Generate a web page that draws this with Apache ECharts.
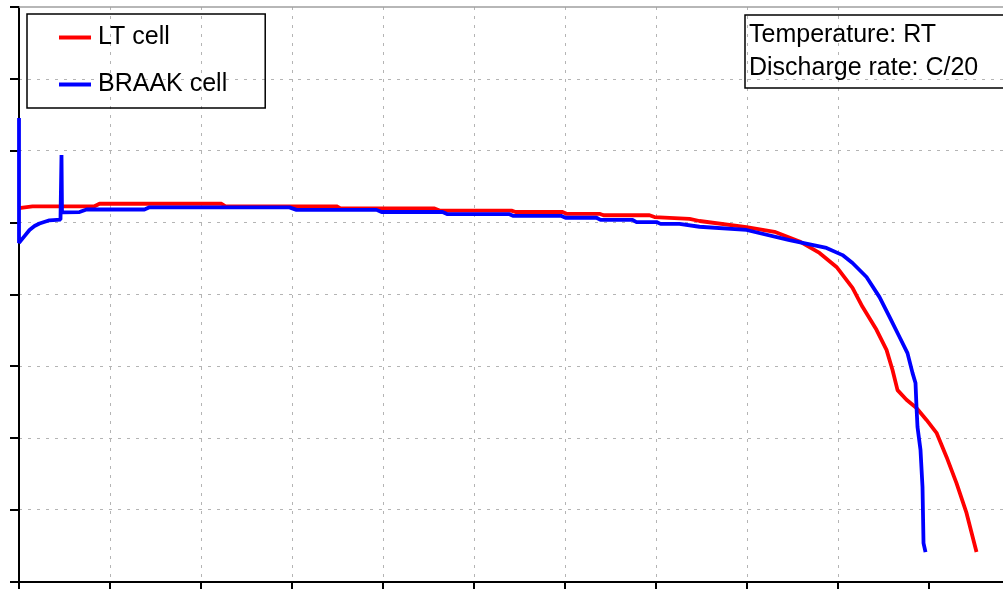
<!DOCTYPE html>
<html>
<head>
<meta charset="utf-8">
<script src="https://cdn.jsdelivr.net/npm/echarts@6/dist/echarts.min.js"></script>
<style>
  html, body { margin: 0; padding: 0; background: #fff; }
  #chart { width: 1003px; height: 589px; }
</style>
</head>
<body>
<div id="chart"></div>
<script>
// Discharge curves at room temperature, C/20 rate.
// x: discharge time (h), y: cell voltage (V)
const seriesNames = ['LT cell', 'BRAAK cell'];
const infoLines = ['Temperature: RT', 'Discharge rate: C/20'];

const ltCell = [
  [0, 3.040], [0.297, 3.045], [1.659, 3.045], [1.769, 3.052], [4.451, 3.052],
  [4.538, 3.045], [6.978, 3.045], [7.066, 3.039], [9.132, 3.039], [9.242, 3.033],
  [10.824, 3.033], [10.912, 3.029], [11.945, 3.029], [12.033, 3.024], [12.758, 3.024],
  [12.846, 3.020], [13.857, 3.020], [13.967, 3.015], [14.736, 3.010], [14.956, 3.004],
  [15.989, 2.987], [16.604, 2.974], [17.154, 2.947], [17.593, 2.915], [17.967, 2.876],
  [18.319, 2.818], [18.538, 2.765], [18.846, 2.701], [19.066, 2.645], [19.198, 2.589],
  [19.308, 2.533], [19.505, 2.506], [19.725, 2.483], [19.945, 2.450], [20.165, 2.414],
  [20.385, 2.347], [20.604, 2.274], [20.824, 2.191], [21.044, 2.082]
];

const braakCell = [
  [0, 3.291], [0, 2.943], [0.121, 2.962], [0.231, 2.979], [0.341, 2.990],
  [0.451, 2.997], [0.670, 3.006], [0.912, 3.008], [0.934, 3.008], [0.934, 3.188],
  [0.945, 3.028], [1.330, 3.029], [1.484, 3.036], [2.758, 3.036], [2.868, 3.042],
  [5.945, 3.042], [6.099, 3.035], [7.857, 3.035], [7.967, 3.029], [9.308, 3.029],
  [9.418, 3.023], [10.780, 3.023], [10.868, 3.018], [11.923, 3.018], [12.011, 3.013],
  [12.692, 3.013], [12.780, 3.007], [13.484, 3.007], [13.571, 3.001], [14.011, 3.001],
  [14.099, 2.996], [14.516, 2.996], [14.956, 2.988], [15.989, 2.979], [16.934, 2.951],
  [17.747, 2.929], [18.099, 2.909], [18.319, 2.887], [18.626, 2.848], [18.912, 2.792],
  [19.132, 2.737], [19.352, 2.681], [19.527, 2.636], [19.637, 2.581], [19.703, 2.553],
  [19.725, 2.486], [19.747, 2.430], [19.813, 2.366], [19.857, 2.263], [19.879, 2.107],
  [19.923, 2.082]
];

// time axis is cut at the right edge of the view
const xMin = 0, xMax = 21.626, xStep = 2;
const yMin = 2.0, yMax = 3.6, yStep = 0.2;
const xTicks = [0, 2, 4, 6, 8, 10, 12, 14, 16, 18, 20];

const font = 'Liberation Sans, Arial, sans-serif';
const gridLine = { show: true, showMaxLine: false, lineStyle: { color: '#b4b4b4', width: 1, type: [3, 6] } };

const chart = echarts.init(document.getElementById('chart'), null, { renderer: 'canvas' });
chart.setOption({
  backgroundColor: '#fff',
  animation: false,
  grid: { left: 19, right: 0, top: 7, bottom: 7.5, containLabel: false },
  title: {
    text: infoLines.join('\n'),
    left: 745, top: 15,
    borderColor: '#000', borderWidth: 1.5,
    padding: [4, 40, 3, 4],
    textStyle: { fontFamily: font, fontSize: 25, fontWeight: 'normal', color: '#000', lineHeight: 33 }
  },
  legend: {
    data: seriesNames,
    orient: 'vertical',
    left: 27, top: 14,
    borderColor: '#000', borderWidth: 1.5,
    padding: [11, 38, 11, 32],
    itemGap: 22,
    itemWidth: 32, itemHeight: 4,
    icon: 'rect',
    textStyle: { fontFamily: font, fontSize: 25, color: '#000', padding: [0, 0, 0, 2] }
  },
  xAxis: [{
    type: 'value', min: xMin, max: xMax, interval: xStep,
    axisLine: { show: true, onZero: false, lineStyle: { color: '#000', width: 2 } },
    axisTick: { show: true, inside: false, length: 8, customValues: xTicks, lineStyle: { color: '#000', width: 2 } },
    axisLabel: { show: false },
    splitLine: gridLine
  }, {
    type: 'value', position: 'top', min: xMin, max: xMax, interval: xStep,
    axisLine: { show: true, lineStyle: { color: '#a0a0a0', width: 1.5 } },
    axisTick: { show: false }, axisLabel: { show: false }, splitLine: { show: false }
  }],
  yAxis: {
    type: 'value', min: yMin, max: yMax, interval: yStep,
    axisLine: { show: true, onZero: false, lineStyle: { color: '#000', width: 2 } },
    axisTick: { show: true, inside: false, length: 9, lineStyle: { color: '#000', width: 2 } },
    axisLabel: { show: false },
    splitLine: gridLine
  },
  series: [{
    name: seriesNames[0], type: 'line', data: ltCell, showSymbol: false, symbol: 'none',
    lineStyle: { color: '#ff0000', width: 3.8 }, itemStyle: { color: '#ff0000' }
  }, {
    name: seriesNames[1], type: 'line', data: braakCell, showSymbol: false, symbol: 'none',
    lineStyle: { color: '#0000ff', width: 3.8 }, itemStyle: { color: '#0000ff' }
  }]
});
</script>
</body>
</html>
